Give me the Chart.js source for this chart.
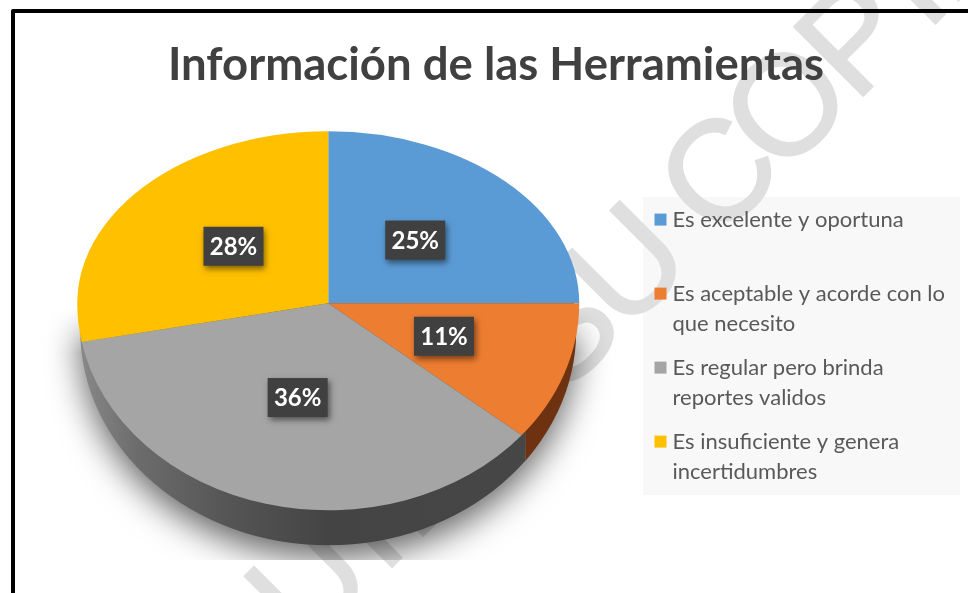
<!DOCTYPE html>
<html><head><meta charset="utf-8">
<style>
html,body{margin:0;padding:0;width:968px;height:593px;overflow:hidden;background:#fff}
#wrap{position:absolute;left:12px;top:0;width:968px;height:593px}
#frame{position:absolute;left:11px;top:9px;width:1000px;height:700px;border:4px solid #000;border-radius:2px;box-sizing:border-box;pointer-events:none}
</style>
<script src="https://cdn.jsdelivr.net/npm/chart.js@4"></script>
</head><body>
<div id="wrap"><canvas id="c" width="968" height="593"></canvas></div>
<div id="frame"></div>
<script>
const chartTitle = 'Información de las Herramientas';
const categories = [
  ['Es excelente y oportuna',''],
  ['Es aceptable y acorde con lo','que necesito'],
  ['Es regular pero brinda','reportes validos'],
  ['Es insuficiente y genera','incertidumbres']
];
const values = [25, 11, 36, 28];
const colors = ['#5B9BD5', '#ED7D31', '#A5A5A5', '#FFC000'];
const watermarkLetters = [['PIA', -10, 'left'], ['O', -4, 'right'], ['C', -104, 'right'], ['U', -234, 'right'], ['S', -330, 'right'], ['UIBI', -486, 'right']];

const KU = 172/251, KL = 207/251;

const pie3d = {
  id: 'pie3d',
  afterLayout(chart) {
    chart.titleBlock.left += 10.5;
    chart.titleBlock.right += 10.5;
  },
  beforeDraw(chart) {
    const ctx = chart.ctx;
    ctx.save();
    ctx.fillStyle = '#f8f8f8';
    ctx.fillRect(631, 197, 317, 298);
    ctx.fillStyle = '#dfdfdf';
    ctx.strokeStyle = '#dfdfdf';
    ctx.lineWidth = 2;
    ctx.font = '142px "Liberation Sans"';
    ctx.textBaseline = 'alphabetic';
    ctx.translate(850, 97);
    ctx.rotate(-Math.PI/4);
    watermarkLetters.forEach(([t, u, al]) => {
      ctx.textAlign = al;
      ctx.letterSpacing = t.length > 1 ? '6px' : '0px';
      ctx.fillText(t, u, 0); ctx.strokeText(t, u, 0);
    });
    ctx.restore();
  },
  beforeDatasetsDraw(chart) {
    const ctx = chart.ctx;
    const arcs = chart.getDatasetMeta(0).data;
    const cx = arcs[0].x, cy = arcs[0].y, r = arcs[0].outerRadius;
    const seam = Math.round(cy);
    const rimCy = cy + 27, rimRx = r - 3, rimRy = 215;
    const splitX = cx + r*Math.cos(arcs[1].endAngle) + 4;
    const rim = () => { ctx.beginPath(); ctx.ellipse(cx, rimCy, rimRx, rimRy, 0, 0, Math.PI*2); };
    // soft shadow on its own layer: fades in from the pie's widest line, cut off below
    const off = document.createElement('canvas');
    off.width = 968; off.height = 593;
    const o = off.getContext('2d');
    o.shadowColor = 'rgba(0,0,0,0.62)'; o.shadowBlur = 34; o.shadowOffsetX = 2000;
    o.fillStyle = '#000';
    o.beginPath(); o.ellipse(cx-2000, rimCy+12, r-4, rimRy, 0, 0, Math.PI*2); o.fill();
    o.shadowColor = 'transparent'; o.shadowOffsetX = 0;
    o.globalCompositeOperation = 'destination-in';
    const fade = o.createLinearGradient(0, cy+5, 0, cy+50);
    fade.addColorStop(0, 'rgba(0,0,0,0)'); fade.addColorStop(1, 'rgba(0,0,0,1)');
    o.fillStyle = fade; o.fillRect(0, 0, 968, 560);
    ctx.drawImage(off, 0, 0);
    // side wall
    ctx.save();
    ctx.beginPath(); ctx.rect(0, seam, splitX, 300); ctx.clip();
    const g = ctx.createLinearGradient(cx-r, 0, cx+r, 0);
    g.addColorStop(0, '#8a8a8a'); g.addColorStop(0.12, '#6c6c6c'); g.addColorStop(0.3, '#555');
    g.addColorStop(0.5, '#444'); g.addColorStop(1, '#474747');
    ctx.fillStyle = g; rim(); ctx.fill();
    ctx.restore();
    ctx.save();
    ctx.beginPath(); ctx.rect(splitX, seam, 600, 300); ctx.clip();
    ctx.fillStyle = '#6e3210'; rim(); ctx.fill();
    ctx.restore();
    // top face: the library's arcs, squashed differently above and below the apex
    [[0, seam, KU], [seam, 600, KL]].forEach(([y0, y1, k]) => {
      ctx.save();
      ctx.beginPath(); ctx.rect(0, y0, 968, y1-y0); ctx.clip();
      ctx.translate(0, cy); ctx.scale(1, k); ctx.translate(0, -cy);
      arcs.forEach(a => a.draw(ctx));
      ctx.restore();
    });
    // percentage tags
    const total = values.reduce((a,b)=>a+b,0);
    arcs.forEach((a,i) => {
      const m = (a.startAngle + a.endAngle)/2;
      const s = Math.sin(m);
      const x = cx + r*0.49*Math.cos(m);
      const y = cy + r*s*(s<0 ? 0.52*KU : 0.47*KL);
      const w = 60, h = 39;
      ctx.save();
      ctx.shadowColor='rgba(0,0,0,0.5)'; ctx.shadowBlur=6; ctx.shadowOffsetX=2; ctx.shadowOffsetY=3;
      ctx.fillStyle='#404040';
      ctx.fillRect(x-w/2, y-h/2, w, h);
      ctx.shadowColor='transparent';
      ctx.fillStyle='#fff';
      ctx.font='bold 24px Lato';
      ctx.textAlign='center'; ctx.textBaseline='middle';
      ctx.fillText(Math.round(values[i]/total*100)+'%', x, y+1);
      ctx.restore();
    });
    return false;
  },
  afterDraw(chart) {
    const ctx = chart.ctx;
    chart.legend.legendHitBoxes.forEach((h,i) => {
      ctx.fillStyle = colors[i];
      ctx.fillRect(h.left, h.top + 5, 12, 12);
    });
  }
};

new Chart(document.getElementById('c'), {
  type: 'pie',
  data: { labels: categories, datasets: [{ data: values, backgroundColor: colors, borderWidth: 0, radius: 251 }] },
  options: {
    responsive: false, animation: false,
    layout: { padding: { left: 4, right: 25, top: 0, bottom: 87 } },
    plugins: {
      tooltip: { enabled: false },
      title: { display: true, text: chartTitle, color: '#404040',
        font: { family: 'Lato', size: 45.5, weight: 'bold' }, padding: { top: 38, bottom: 8 } },
      legend: { position: 'right', align: 'center',
        title: { display: true, text: ' ', font: { size: 1 }, padding: { top: 192, bottom: 0 } },
        labels: { color: '#595959', font: { family: 'Lato', size: 22, lineHeight: '30px' },
          boxWidth: 7, boxHeight: 12, padding: 14,
          generateLabels: (c) => Chart.overrides.pie.plugins.legend.labels.generateLabels(c)
            .map(it => ({ ...it, fillStyle: 'transparent', strokeStyle: 'transparent' })) } }
    }
  },
  plugins: [pie3d]
});
</script>
</body></html>
